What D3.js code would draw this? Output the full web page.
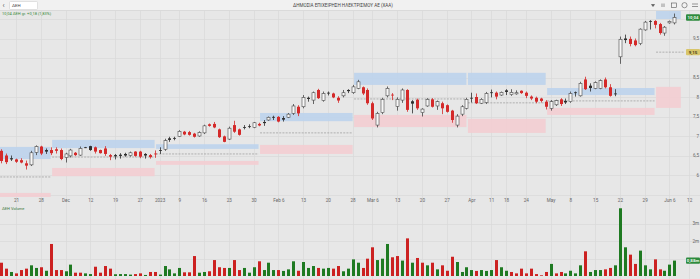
<!DOCTYPE html>
<html>
<head>
<meta charset="utf-8">
<script src="https://cdnjs.cloudflare.com/ajax/libs/d3/7.8.5/d3.min.js"></script>
<style>
  body { margin: 0; background: #e7e7e7; }
  svg { display: block; font-family: Roboto, "Open Sans", sans-serif; }
</style>
</head>
<body>
<svg id="chart" width="700" height="279"></svg>
<script>
// candle index 0 = 21 Nov 2022, first candle is 3 sessions earlier
const firstIndex = -3

const openP = [6.62,6.50,6.43,6.40,6.38,6.30,6.26,6.58,6.73,6.64,6.64,6.66,6.64,6.45,6.49,6.57,6.51,6.71,6.74,6.71,6.64,6.68,6.51,6.51,6.52,6.54,6.50,6.60,6.60,6.54,6.51,6.55,6.64,6.66,6.94,6.95,6.99,7.11,7.10,7.06,7.00,7.08,7.30,7.31,7.17,6.99,6.92,7.28,7.17,
  7.23,7.25,7.22,7.31,7.36,7.41,7.49,7.49,7.46,7.48,7.58,7.75,7.75,7.98,7.92,8.18,7.91,8.11,8.09,7.98,8.03,8.18,8.11,8.22,8.25,8.18,7.84,7.28,7.60,8.03,8.06,7.76,7.92,8.18,7.89,7.93,7.60,7.77,7.94,7.77,7.84,7.79,7.65,7.28,7.56,7.71,
  7.98,8.00,7.84,7.86,8.12,8.11,8.05,8.17,8.06,8.08,8.16,8.11,8.01,7.98,7.96,7.88,7.71,7.80,7.94,7.90,7.88,8.12,8.03,8.45,8.29,8.22,8.22,8.45,8.25,8.09,
  9.03,9.50,9.49,9.45,9.37,9.72,9.95,9.95,9.87,9.64,9.90,9.90]
const highP = [6.66,6.55,6.50,6.42,6.43,6.37,6.62,6.76,6.75,6.68,6.71,6.71,6.68,6.57,6.67,6.59,6.73,6.72,6.75,6.73,6.65,6.74,6.54,6.54,6.56,6.57,6.60,6.61,6.62,6.56,6.54,6.63,6.71,6.93,6.98,6.98,7.15,7.13,7.13,7.08,7.12,7.29,7.32,7.36,7.19,7.01,7.24,7.39,7.19,
  7.28,7.30,7.36,7.34,7.41,7.50,7.52,7.51,7.51,7.59,7.82,7.79,8.05,8.01,8.14,8.21,8.14,8.14,8.11,8.02,8.18,8.20,8.31,8.44,8.27,8.22,7.88,7.62,7.98,8.27,8.10,7.99,8.22,8.20,7.92,7.96,7.71,7.97,7.97,7.91,7.88,7.81,7.67,7.56,7.79,7.98,
  8.11,8.09,7.97,8.13,8.19,8.14,8.14,8.20,8.20,8.17,8.17,8.14,8.04,8.01,7.98,7.92,7.92,7.93,7.97,7.96,8.14,8.14,8.39,8.52,8.35,8.40,8.45,8.50,8.33,8.20,
  9.55,9.60,9.55,9.50,9.76,9.95,9.97,9.97,9.90,9.82,9.96,10.14]
const lowP = [6.30,6.28,6.36,6.31,6.30,6.14,6.23,6.51,6.51,6.54,6.51,6.55,6.38,6.32,6.45,6.49,6.49,6.69,6.62,6.55,6.55,6.49,6.38,6.40,6.42,6.47,6.47,6.47,6.43,6.42,6.42,6.44,6.54,6.62,6.85,6.89,6.98,7.02,7.01,6.96,6.98,7.05,7.24,7.20,6.95,6.84,6.90,7.08,7.01,
  7.17,7.20,7.20,7.25,7.26,7.39,7.41,7.35,7.37,7.46,7.54,7.51,7.71,7.88,7.82,7.95,7.88,8.04,7.97,7.85,7.99,8.10,8.08,8.20,8.05,7.80,7.41,7.22,7.56,7.99,7.92,7.65,7.85,7.62,7.58,7.67,7.50,7.75,7.73,7.67,7.56,7.60,7.34,7.22,7.51,7.68,
  7.86,7.82,7.82,7.82,7.99,7.94,8.03,8.05,8.03,8.06,8.08,7.97,7.92,7.84,7.86,7.68,7.65,7.77,7.77,7.82,7.85,8.01,8.01,8.18,8.14,8.20,8.20,8.22,8.01,8.02,
  8.85,9.38,9.30,9.30,9.33,9.70,9.73,9.76,9.60,9.57,9.88,9.86]
const closeP = [6.36,6.33,6.40,6.34,6.32,6.24,6.57,6.73,6.55,6.60,6.56,6.62,6.41,6.54,6.64,6.51,6.68,6.70,6.64,6.60,6.56,6.54,6.47,6.48,6.49,6.50,6.57,6.49,6.47,6.50,6.46,6.54,6.62,6.88,6.90,6.93,7.12,7.04,7.03,6.98,7.09,7.26,7.26,7.22,6.97,6.85,7.20,7.11,7.03,
  7.21,7.24,7.34,7.27,7.33,7.48,7.47,7.37,7.42,7.56,7.77,7.58,7.99,7.95,8.11,7.97,8.09,8.09,7.99,7.91,8.11,8.15,8.26,8.39,8.09,7.84,7.45,7.58,7.94,8.22,8.04,7.94,8.18,7.67,7.83,7.71,7.69,7.94,7.75,7.88,7.71,7.62,7.41,7.51,7.75,7.94,
  7.96,7.84,7.94,8.09,8.10,8.01,8.12,8.13,8.12,8.11,8.10,8.03,7.96,7.88,7.90,7.75,7.88,7.91,7.82,7.86,8.09,8.10,8.35,8.20,8.23,8.37,8.42,8.25,8.03,8.07,
  9.48,9.46,9.36,9.33,9.74,9.92,9.93,9.85,9.64,9.79,9.94,10.04]

// volume in millions, volUp 1 = green bar
const volume = [0.76,0.42,0.23,0.15,0.34,0.42,0.61,0.46,0.50,0.30,1.83,0.34,0.34,0.27,0.65,0.19,0.19,0.15,0.11,0.53,0.19,0.57,0.42,0.10,0.11,0.11,0.08,0.11,0.15,0.06,0.23,0.23,0.08,0.57,0.38,0.15,0.46,0.21,0.21,1.14,0.19,0.23,0.27,0.91,0.50,0.46,0.46,0.91,0.34,
  0.46,0.19,0.50,0.84,0.34,0.76,0.34,0.34,0.29,0.38,0.84,0.30,0.80,0.46,0.57,0.46,0.42,0.46,0.42,0.57,0.27,0.42,0.95,0.76,0.46,0.99,1.64,0.91,0.99,1.83,1.07,1.14,0.88,2.15,0.76,1.03,0.76,0.61,0.76,0.38,0.61,0.30,1.10,0.80,0.23,0.50,
  0.34,0.29,0.34,0.29,0.34,0.91,0.50,0.30,0.23,0.15,0.42,0.15,0.42,0.11,0.04,0.23,0.69,0.15,0.23,0.15,0.30,0.15,0.61,1.41,0.23,0.34,0.34,0.38,0.46,0.61,
  3.87,1.64,1.22,0.69,1.45,0.61,0.38,0.95,0.38,0.30,0.65,0.88]
const volUp = [0,0,1,0,0,0,1,1,0,1,0,0,0,1,1,0,0,1,1,0,0,0,0,1,1,1,1,0,0,1,0,0,1,1,1,1,1,0,0,0,1,1,0,0,0,0,1,0,0,
  1,1,1,0,1,1,1,0,1,1,1,0,1,1,1,0,1,1,0,0,1,1,1,1,0,0,0,1,1,1,0,0,1,0,1,0,0,1,0,1,0,0,0,1,1,1,
  1,0,1,1,1,0,1,1,0,0,0,0,0,0,0,0,1,0,0,1,1,1,1,0,1,1,1,0,0,1,
  1,1,0,0,1,1,1,0,0,1,1,1]

// weekly ticks on the time axis (session index)
const tickIndex = [0,5,10,15,20,25,29,33,38,43,48,53,58,63,68,72,77,82,87,92,96,99,103,108,112,117,122,127,132,136]
const tickLabels = ["21","28","Dec","12","19","27","2023","9","16","23","30","Feb 6","13","20","28","Mar 6","13","20","27","Apr","11","18","24","May","8","15","22","29","Jun 6","12"]

// monthly projected zones (price), start / end in session index
const zoneStart = [-9,7.3,28.3,49.3,68.3,91.3,107.3,129.3]
const zoneEnd = [7,28,49,68,91,107,129,134.3]
const resHigh = [6.72,6.90,6.79,7.59,8.62,8.62,8.23,10.4]
const resLow = [6.41,6.69,6.67,7.38,8.31,8.31,8.05,10.0]
const pivot = [5.95,6.46,6.54,7.08,7.95,7.85,7.90,9.15]
const supHigh = [5.54,6.18,6.36,6.77,7.54,7.44,7.72,8.26]
const supLow = [5.30,5.97,6.26,6.54,7.23,7.08,7.54,7.72]

const priceTicks = [6,6.5,7,7.5,8,8.5,9.5]
const volTicks = [1,2,3]
const volTickLabels = ["2m","3m"]

const W = 700, H = 279
const svg = d3.select("#chart")

const x = d3.scaleLinear().domain([0, 136]).range([16, 689.2])
const y = d3.scaleLinear().domain([6, 10]).range([175, 19])
const yv = d3.scaleLinear().domain([0, 4]).range([276, 206])

const comma = d => String(d).replace(".", ",")
const red = "#d42a2a", dark = "#2e2e2e"

// background + header
svg.append("rect").attr("width", W).attr("height", H).attr("fill", "#e7e7e7")
svg.append("rect").attr("width", W).attr("height", 10).attr("fill", "#f1f1f1")
svg.append("line").attr("x1", 0).attr("x2", W).attr("y1", 10.5).attr("y2", 10.5).attr("stroke", "#d2d2d2").attr("stroke-width", 0.6)

// grid
const grid = svg.append("g")
grid.selectAll("line.v").data(tickIndex).join("line")
    .attr("x1", d => Math.round(x(d)) + 0.5).attr("x2", d => Math.round(x(d)) + 0.5)
    .attr("y1", 11).attr("y2", H)
    .attr("stroke", "#d9d9d9").attr("stroke-width", 0.7)
grid.selectAll("line.h").data(d3.range(5.5, 10.01, 0.5)).join("line")
    .attr("x1", 0).attr("x2", W)
    .attr("y1", d => Math.round(y(d)) + 0.5).attr("y2", d => Math.round(y(d)) + 0.5)
    .attr("stroke", "#d9d9d9").attr("stroke-width", 0.7)
grid.selectAll("line.vh").data(volTicks).join("line")
    .attr("x1", 0).attr("x2", W)
    .attr("y1", d => Math.round(yv(d)) + 0.5).attr("y2", d => Math.round(yv(d)) + 0.5)
    .attr("stroke", "#d9d9d9").attr("stroke-width", 0.7)

// clip for the price pane
svg.append("clipPath").attr("id", "pclip").append("rect")
    .attr("x", 0).attr("y", 11).attr("width", W).attr("height", 186)

const pane = svg.append("g").attr("clip-path", "url(#pclip)")

// zones
const zones = zoneStart.map((s, k) => ({ s: s, e: zoneEnd[k], rh: resHigh[k], rl: resLow[k], p: pivot[k], sh: supHigh[k], sl: supLow[k] }))
pane.selectAll("rect.res").data(zones).join("rect")
    .attr("x", d => x(d.s)).attr("width", d => x(d.e) - x(d.s))
    .attr("y", d => y(d.rh)).attr("height", d => y(d.rl) - y(d.rh))
    .attr("fill", "#bcd3ec").attr("opacity", 0.9)
pane.selectAll("rect.sup").data(zones).join("rect")
    .attr("x", d => x(d.s)).attr("width", d => x(d.e) - x(d.s))
    .attr("y", d => y(d.sh)).attr("height", d => y(d.sl) - y(d.sh))
    .attr("fill", "#f3cdd2").attr("opacity", 0.9)
pane.selectAll("line.piv").data(zones).join("line")
    .attr("x1", d => x(d.s)).attr("x2", (d, k) => k == zones.length - 1 ? x(d.e) + 4 : x(d.e))
    .attr("y1", d => y(d.p)).attr("y2", d => y(d.p))
    .attr("stroke", "#8c8c8c").attr("stroke-width", 0.6).attr("stroke-dasharray", "2,1.2")

// candles
const candles = openP.map((o, k) => ({ i: k + firstIndex, o: o, h: highP[k], l: lowP[k], c: closeP[k], v: volume[k], up: volUp[k] }))
const candleColor = d => d.c > d.o ? "#444" : (d.up ? dark : red)

const cg = pane.selectAll("g.candle").data(candles).join("g")
cg.append("line")
    .attr("x1", d => Math.round(x(d.i)) + 0.5).attr("x2", d => Math.round(x(d.i)) + 0.5)
    .attr("y1", d => y(d.h)).attr("y2", d => y(d.l))
    .attr("stroke", candleColor).attr("stroke-width", 0.8)
cg.append("rect")
    .attr("x", d => Math.round(x(d.i)) - 1)
    .attr("width", 3)
    .attr("y", d => y(Math.max(d.o, d.c)))
    .attr("height", d => Math.max(0.8, Math.abs(y(d.o) - y(d.c))))
    .attr("fill", d => d.c > d.o ? "#f7f7f7" : candleColor(d))
    .attr("stroke", d => d.c > d.o ? "#4a4a4a" : "none")
    .attr("stroke-width", 0.6)

// volume bars
svg.append("g").selectAll("rect").data(candles).join("rect")
    .attr("x", d => Math.round(x(d.i)) - 1)
    .attr("width", 3)
    .attr("y", d => yv(d.v))
    .attr("height", d => yv(0) - yv(d.v))
    .attr("fill", d => d.up ? "#1f7a22" : "#cc2121")

// time axis
const xAxis = svg.append("g").attr("transform", "translate(0,199)")
    .call(d3.axisBottom(x).tickValues(tickIndex).tickFormat((d, k) => tickLabels[k]).tickSize(0).tickPadding(0))
xAxis.select(".domain").remove()
xAxis.selectAll("text").attr("font-size", 4.6).attr("fill", "#666").attr("font-family", "Roboto, sans-serif")

// price axis
const yAxis = svg.append("g").attr("transform", "translate(699,0)")
    .call(d3.axisLeft(y).tickValues(priceTicks).tickFormat(comma).tickSize(0).tickPadding(0))
yAxis.select(".domain").remove()
yAxis.selectAll("text").attr("font-size", 4.6).attr("fill", "#666").attr("font-family", "Roboto, sans-serif")

// volume axis
svg.append("g").selectAll("text").data(volTicks.slice(1)).join("text")
    .attr("x", 699).attr("y", d => yv(d) + 1.6)
    .attr("text-anchor", "end").attr("font-size", 4.6).attr("fill", "#666")
    .text((d, k) => volTickLabels[k])

// value boxes on the right
function valueBox(yPos, label, fill, color) {
    let g = svg.append("g")
    g.append("rect").attr("x", 686).attr("y", yPos - 3.2).attr("width", 14).attr("height", 6.4).attr("rx", 1).attr("fill", fill)
    g.append("text").attr("x", 693).attr("y", yPos + 1.6).attr("text-anchor", "middle")
        .attr("font-size", 4.4).attr("font-weight", "bold").attr("fill", color).text(label)
}
const last = candles[candles.length - 1]
valueBox(y(last.c), comma(last.c.toFixed(2)), "#2e8b3e", "#e8f5e8")
valueBox(y(pivot[pivot.length - 1]), comma(pivot[pivot.length - 1].toFixed(2)), "#d8c56a", "#4a4020")
valueBox(yv(last.v), "0,88m", "#2e8b3e", "#e8f5e8")

// header texts
svg.append("text").attr("x", 2.5).attr("y", 8).attr("font-size", 7).attr("fill", "#555").text("‹")
svg.append("rect").attr("x", 9.5).attr("y", 1.5).attr("width", 28).attr("height", 8).attr("rx", 1)
    .attr("fill", "#fff").attr("stroke", "#c9c9c9").attr("stroke-width", 0.5)
svg.append("text").attr("x", 12).attr("y", 7.3).attr("font-size", 4.4).attr("fill", "#444").text("ΔΕΗ")
svg.append("text").attr("x", 343).attr("y", 7.4).attr("text-anchor", "middle").attr("font-size", 4.6).attr("fill", "#444")
    .text("ΔΗΜΟΣΙΑ ΕΠΙΧΕΙΡΗΣΗ ΗΛΕΚΤΡΙΣΜΟΥ ΑΕ (ΧΑΑ)")
svg.append("text").attr("x", 2).attr("y", 15.3).attr("font-size", 4).attr("fill", "#3b8a3b")
    .text("10,04 ΔΕΗ gr. +0,18 (1,83%)")
svg.append("text").attr("x", 2).attr("y", 209.5).attr("font-size", 4).attr("fill", "#3b7a3b").text("ΔΕΗ Volume")

// toolbar icons
const icons = svg.append("g").attr("fill", "none").attr("stroke", "#555").attr("stroke-width", 0.6)
icons.append("path").attr("d", "M651.5,4.5 L654.5,4.5 L653,6.5 Z").attr("fill", "#555")
icons.append("path").attr("d", "M662,3.5 V7 M664,3.5 V7")
icons.append("rect").attr("x", 671.5).attr("y", 3).attr("width", 5).attr("height", 4.5)
icons.append("circle").attr("cx", 684.5).attr("cy", 5.2).attr("r", 2.6)
icons.append("path").attr("d", "M692,4 H698 M692,6.5 H698")
</script>
</body>
</html>
